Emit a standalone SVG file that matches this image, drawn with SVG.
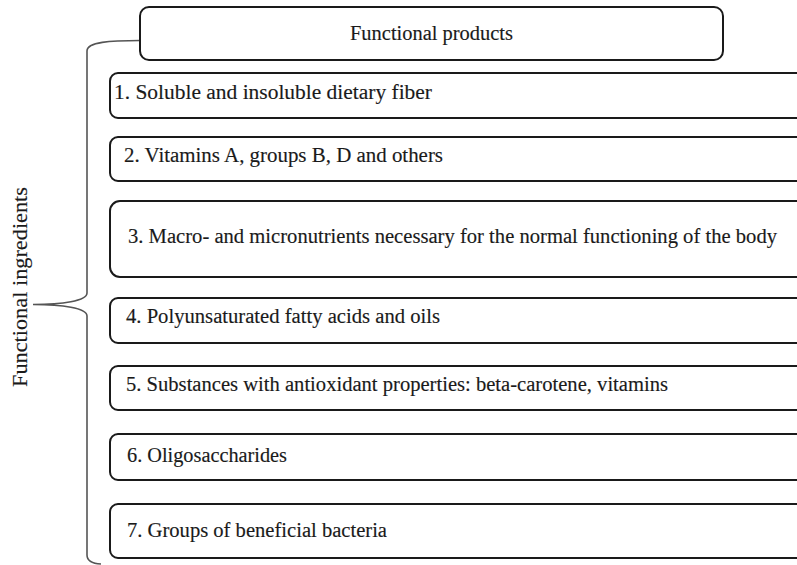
<svg xmlns="http://www.w3.org/2000/svg" width="797" height="565" viewBox="0 0 797 565">
<style>
.box{fill:#fff;stroke:#1a1a1a;stroke-width:2}
.t{font-family:"Liberation Serif","Times New Roman",serif;font-size:20px;fill:#1a1a1a;stroke:#1a1a1a;stroke-width:0.15}
.brace{fill:none;stroke:#555;stroke-width:1.6}
</style>
<rect x="0" y="0" width="797" height="565" fill="#fff"/>
<g id="connectors">
<path class="brace" d="M140,40.5 C110,40.5 87,42 87,51 L87,293 C87,301 62,304.5 33,304.5 C62,304.5 87,308 87,316 L87,555 C87,561 92,563.5 101,564"/>
</g>
<g id="label-ingredients">
<text class="t" transform="translate(27,287) rotate(-90)" text-anchor="middle" font-size="22" textLength="200" lengthAdjust="spacingAndGlyphs">Functional ingredients</text>
</g>
<g id="node-products">
<rect class="box" x="140" y="7" width="583" height="53" rx="9"/>
<text class="t" x="350" y="40" textLength="163" lengthAdjust="spacingAndGlyphs">Functional products</text>
</g>
<g id="node-1">
<rect class="box" x="110" y="73" width="700" height="45" rx="8"/>
<text class="t" x="114" y="99" textLength="318" lengthAdjust="spacingAndGlyphs">1. Soluble and insoluble dietary fiber</text>
</g>
<g id="node-2">
<rect class="box" x="110" y="137" width="700" height="44" rx="8"/>
<text class="t" x="124" y="162" textLength="319" lengthAdjust="spacingAndGlyphs">2. Vitamins A, groups B, D and others</text>
</g>
<g id="node-3">
<rect class="box" x="110" y="201" width="700" height="76" rx="10"/>
<text class="t" x="128" y="243" textLength="649" lengthAdjust="spacingAndGlyphs">3. Macro- and micronutrients necessary for the normal functioning of the body</text>
</g>
<g id="node-4">
<rect class="box" x="110" y="298" width="700" height="45" rx="8"/>
<text class="t" x="126" y="323" textLength="314" lengthAdjust="spacingAndGlyphs">4. Polyunsaturated fatty acids and oils</text>
</g>
<g id="node-5">
<rect class="box" x="110" y="366" width="700" height="44" rx="8"/>
<text class="t" x="126" y="391" textLength="542" lengthAdjust="spacingAndGlyphs">5. Substances with antioxidant properties: beta-carotene, vitamins</text>
</g>
<g id="node-6">
<rect class="box" x="110" y="434" width="700" height="46" rx="8"/>
<text class="t" x="127" y="462" textLength="160" lengthAdjust="spacingAndGlyphs">6. Oligosaccharides</text>
</g>
<g id="node-7">
<rect class="box" x="110" y="504" width="700" height="54" rx="8"/>
<text class="t" x="127" y="537" textLength="260" lengthAdjust="spacingAndGlyphs">7. Groups of beneficial bacteria</text>
</g>
</svg>
